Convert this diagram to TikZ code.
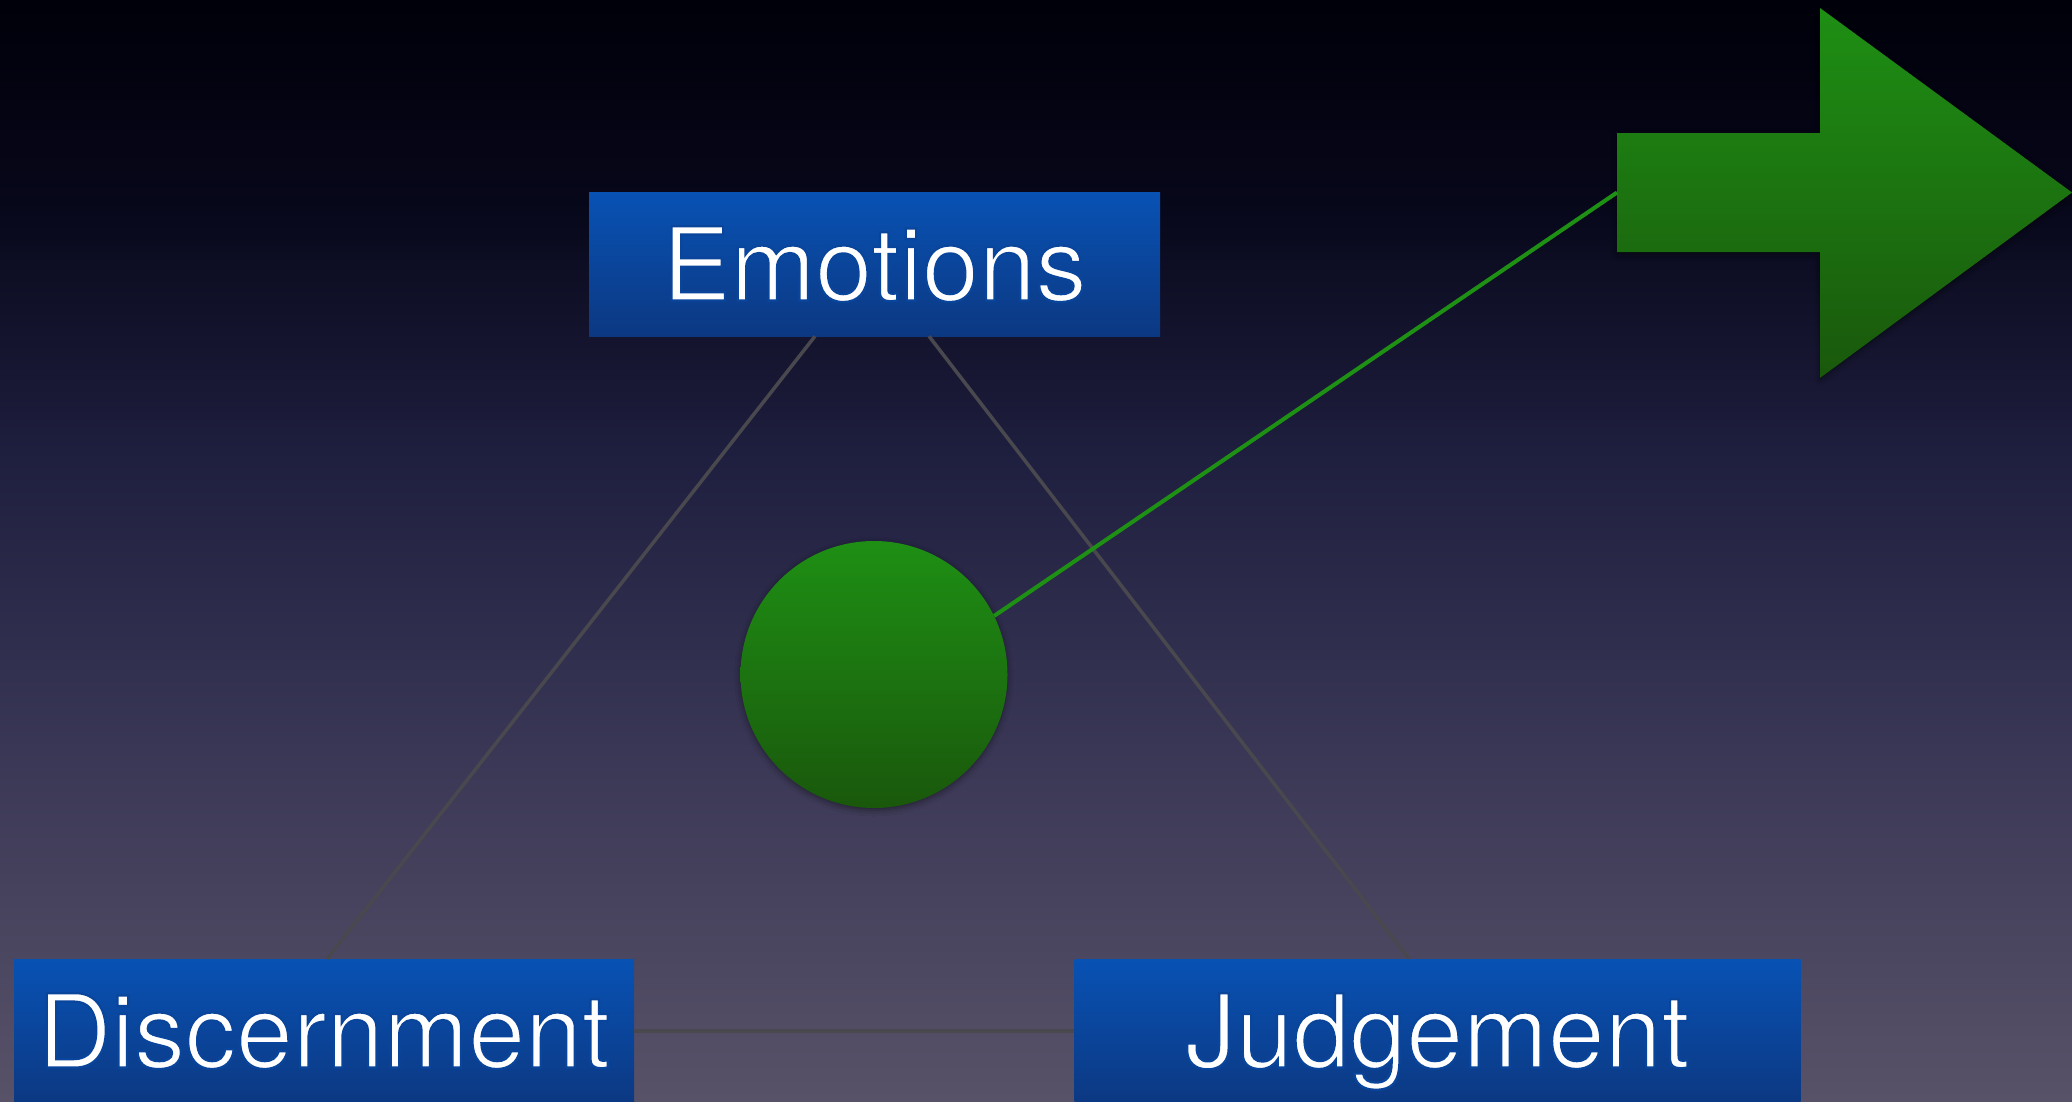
\documentclass[tikz,border=0pt]{standalone}
\usepackage{fontspec}
\setmainfont{TeX Gyre Heros}
\usetikzlibrary{shadows.blur}
\definecolor{bgA}{RGB}{0,0,10}
\definecolor{bgB}{RGB}{7,7,26}
\definecolor{bgC}{RGB}{30,30,62}
\definecolor{bgD}{RGB}{58,55,86}
\definecolor{bgE}{RGB}{88,82,104}
\definecolor{boxtop}{RGB}{8,82,180}
\definecolor{boxbot}{RGB}{12,56,130}
\definecolor{greentop}{RGB}{30,143,20}
\definecolor{greenbot}{RGB}{26,88,12}
\definecolor{greenline}{RGB}{30,145,20}
\definecolor{triline}{RGB}{72,72,78}
% thin the glyphs slightly by stroking their outline in the box colour
\newcommand\lighttext[1]{\special{pdf:code 2 Tr 2.2 w 0.04 0.27 0.61 RG}#1\special{pdf:code 0 Tr}}
\tikzset{
  labelbox/.style={rectangle, inner sep=0pt, top color=boxtop, bottom color=boxbot,
    text=white, font=\fontsize{102}{110}\selectfont, text height=73pt, text depth=0pt,
    minimum height=144pt},
  triedge/.style={draw=triline, line width=3.5pt},
  greenedge/.style={draw=greenline, line width=4pt},
  greenfill/.style={top color=greentop, bottom color=greenbot,
    blur shadow={shadow xshift=0pt, shadow yshift=-2pt, shadow blur radius=6pt, shadow opacity=45}},
}
\begin{document}
\begin{tikzpicture}[x=1pt,y=-1pt]
\useasboundingbox (0,0) rectangle (2072,1101);
% background
\shade[top color=bgA, bottom color=bgB] (0,0) rectangle (2072,201);
\shade[top color=bgB, bottom color=bgC] (0,200) rectangle (2072,451);
\shade[top color=bgC, bottom color=bgD] (0,450) rectangle (2072,751);
\shade[top color=bgD, bottom color=bgE] (0,750) rectangle (2072,1101);
% boxes
\node[labelbox, minimum width=571pt] (emo) at (874.5,264) {\lighttext{Emotions}};
\node[labelbox, minimum width=620pt] (dis) at (324,1031) {\lighttext{Discernment}};
\node[labelbox, minimum width=726pt] (jud) at (1437.5,1031) {\lighttext{Judgement}};
% triangle
\draw[triedge] ([xshift=-59.5pt]emo.south) -- ([xshift=3pt]dis.north);
\draw[triedge] ([xshift=54.5pt]emo.south) -- ([xshift=-28.5pt]jud.north);
\draw[triedge] (dis.east) -- (jud.west);
% arrow
\coordinate (tail) at (1617,192.5);
\fill[greenfill] (1617,133) -- (1820,133) -- (1820,8) -- (2072,192.5) -- (1820,378) -- (1820,252) -- (1617,252) -- cycle;
% circle
\node[circle, minimum size=267pt, inner sep=0pt, greenfill] (circ) at (874,674.5) {};
\draw[greenedge] (circ.26.8) -- (tail);
\end{tikzpicture}
\end{document}
